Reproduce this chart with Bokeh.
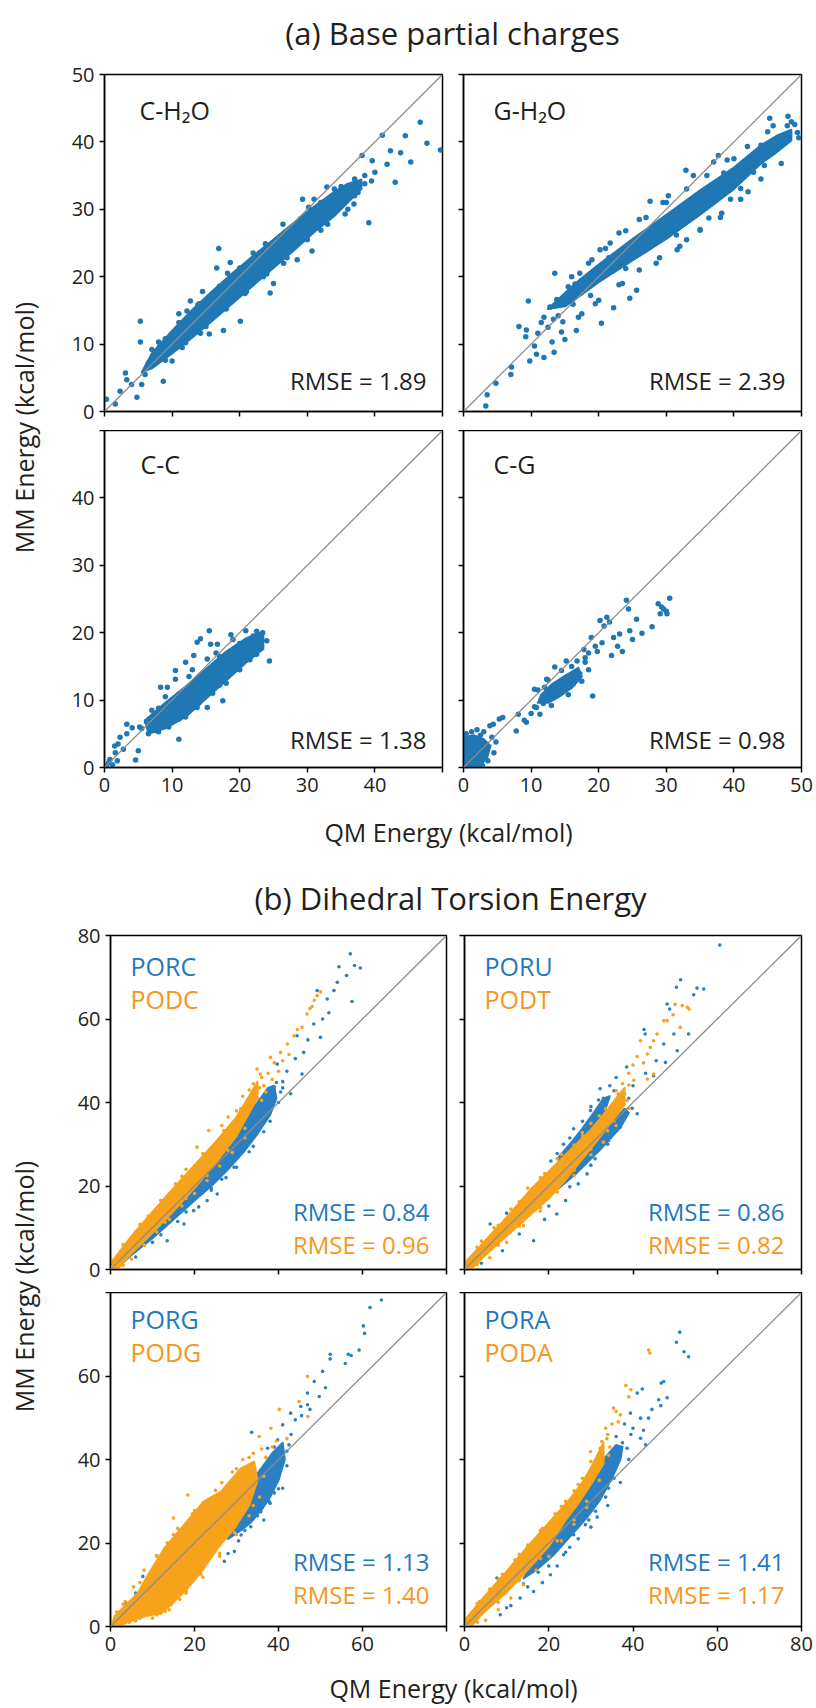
import math
from bokeh.plotting import figure
from bokeh.layouts import column, row
from bokeh.models import Range1d, FixedTicker, Label, Slope
from bokeh.embed import file_html
from bokeh.resources import INLINE

FONT = "Open Sans"
TXT = "#231f20"
BLUE_A = "#1f77b4"
BLUE_B = "#2b7fc3"
BLUE_T = "#1f78c0"
ORANGE = "#f7a21b"
ORANGE_T = "#f7961d"

# ---------------- data: (QM energy, MM energy) in kcal/mol ----------------
ticks_a = [0, 10, 20, 30, 40, 50]
ticks_b = [0, 20, 40, 60, 80]

# (a) C-H2O : outline of the densely packed region, then individual points
ch2o_dense = [(5.5, 5.8), (7, 8.6), (10, 12.0), (13, 15.1), (16, 17.9), (19, 20.6), (22, 23.1), (25, 25.5),
              (28, 28.0), (31, 30.4), (34, 32.6), (36, 33.8), (38, 34.4), (38, 33.0), (36, 31.0), (34, 29.0),
              (31, 26.6), (28, 23.9), (25, 21.3), (22, 18.7), (19, 16.1), (16, 13.5), (13, 11.0), (10, 8.6),
              (7, 6.4)]
ch2o_pts = [(0.3, 1.8), (1.6, 1.1), (2.3, 3.0), (3.1, 5.7), (3.3, 4.7), (4.0, 4.0), (4.8, 2.1), (5.3, 13.4),
            (5.3, 10.3), (5.5, 4.0), (6.5, 7.2), (7.0, 9.2), (7.8, 8.4), (8.7, 4.5), (8.2, 9.7), (9.5, 9.0),
            (12.7, 16.4), (16.6, 21.3), (16.9, 24.2), (18.6, 22.1), (20.1, 13.4), (17.6, 12.0), (24.5, 17.6),
            (26.4, 27.8), (29.3, 31.5), (30.7, 23.8), (32.9, 33.3), (35.6, 29.3), (36.9, 30.8), (38.1, 38.0),
            (39.1, 28.0), (39.6, 37.2), (41.1, 41.0), (41.8, 36.7), (42.3, 38.7), (43.0, 34.0), (43.8, 38.4),
            (44.5, 40.9), (45.3, 37.0), (46.7, 42.9), (47.7, 39.8), (49.7, 38.8), (11.0, 14.5), (14.5, 17.8),
            (15.5, 11.5), (22.0, 23.5), (27.5, 26.0), (31.0, 31.5), (34.0, 33.0), (10.0, 7.5), (19.5, 20.5),
            (25.0, 19.0), (28.5, 22.5), (37.0, 34.5), (40.0, 35.5), (6.0, 5.5), (9.0, 10.8), (11.5, 9.5),
            (13.8, 15.8), (21.0, 21.8), (23.5, 20.0), (33.5, 29.0), (35.0, 32.5), (38.5, 35.0),
            (8, 10.3), (11, 13.2), (14, 16.0), (17, 18.6), (20, 21.3), (23, 23.6), (26, 26.0), (29, 28.6),
            (32, 31.0), (35, 33.4), (9, 7.6), (12, 10.2), (15, 12.6), (18, 15.2), (21, 17.8), (24, 20.4),
            (27, 22.8), (30, 25.5), (33, 27.8), (36, 30.0), (37.5, 32.5), (38.5, 33.8), (39.5, 34.2),
            (12.2, 14.9), (18.2, 20.5), (23.8, 24.9), (30.2, 30.3), (34.8, 32.6), (14.2, 11.6), (20.8, 17.5),
            (26.5, 22.0), (32.0, 26.9), (37.0, 32.0)]

# (a) G-H2O
gh2o_dense = [(12.5, 15.2), (15, 17.6), (17, 19.4), (20, 21.8), (25, 25.6), (30, 29.2), (35, 32.8),
              (40, 36.2), (44, 39.5), (46.5, 41.0), (48.5, 41.8), (48.5, 40.2), (46, 38.2), (44, 36.8),
              (40, 33.0), (35, 29.2), (30, 25.6), (25, 22.4), (20, 19.2), (17, 17.0), (15, 15.6)]
gh2o_pts = [(3.3, 0.8), (3.5, 2.5), (4.8, 4.2), (7.0, 5.5), (7.1, 6.6), (9.8, 7.5), (10.5, 9.7), (10.8, 8.5),
            (11.9, 8.0), (11.0, 11.6), (9.6, 16.4), (8.2, 12.6), (9.3, 12.1), (9.2, 11.1), (11.9, 14.0),
            (13.1, 10.3), (13.3, 13.7), (13.5, 20.5), (13.4, 8.8), (15.0, 10.7), (14.7, 13.3), (14.0, 14.2),
            (16.2, 15.9), (16.7, 12.0), (17.5, 14.5), (18.0, 19.0), (17.2, 20.5), (20.2, 24.0), (21.7, 25.0),
            (20.4, 13.1), (22.2, 15.4), (24.6, 16.8), (25.6, 18.0), (27.6, 31.2), (30.3, 32.0), (32.9, 35.8),
            (34.0, 35.0), (37.0, 37.0), (37.7, 38.0), (45.3, 43.5), (45.8, 42.4), (47.9, 42.4), (49.4, 41.4),
            (42.1, 32.6), (42.9, 35.5), (31.6, 24.0), (35.0, 26.9), (36.3, 28.7), (38.2, 29.4), (41.0, 33.1),
            (12.5, 12.5), (15.5, 18.5), (19.0, 22.5), (23.0, 26.5), (26.0, 28.5), (28.5, 22.0), (33.0, 25.5),
            (39.5, 31.5), (44.0, 39.5), (46.5, 40.5), (48.5, 43.0), (44.5, 36.5), (40.0, 37.5), (23.5, 19.0),
            (19.5, 16.0), (29.5, 31.0), (16.0, 20.0), (18.5, 22.0), (21.0, 24.2), (24.0, 26.8), (27.0, 28.8),
            (30.0, 31.0), (33.0, 33.0), (36.0, 35.0), (39.0, 37.3), (42.0, 39.3), (45.0, 41.5), (48.0, 43.8),
            (17.0, 14.0), (20.0, 16.5), (23.0, 18.8), (26.0, 21.0), (29.0, 22.8), (32.0, 24.5), (35.0, 27.0),
            (38.0, 28.8), (41.0, 31.5), (44.0, 34.5), (47.0, 36.8), (15.0, 16.5), (12.8, 15.5), (14.5, 11.8),
            (22.0, 21.0), (27.0, 24.0), (31.0, 27.5), (34.0, 30.5), (37.5, 33.0), (41.5, 36.0), (46.5, 39.5),
            (11.5, 13.2), (13.8, 16.6), (16.5, 18.9), (18.8, 17.2), (21.5, 22.8), (24.0, 21.2), (28.0, 27.0),
            (31.5, 26.2), (36.5, 31.5), (38.5, 35.4), (43.0, 37.8), (49.0, 42.6), (49.6, 40.6)]

# (a) C-C
cc_dense = [(6, 7.0), (9, 9.6), (12, 12.0), (15, 14.6), (18, 17.2), (21, 19.2), (23.5, 20.2), (23.5, 17.6),
            (21, 15.6), (18, 12.9), (15, 10.2), (12, 7.5), (9, 5.8), (6.5, 5.0)]
cc_pts = [(0.6, 0.7), (0.8, 1.2), (1.6, 2.2), (2.3, 4.5), (3.3, 5.0), (4.1, 5.9), (3.3, 6.4), (4.6, 1.1),
          (5.0, 2.5), (2.8, 2.7), (11.0, 4.2), (6.5, 5.0), (15.2, 8.9), (13.7, 8.9), (17.5, 9.9), (24.4, 15.8),
          (10.5, 14.4), (10.5, 13.1), (12.0, 15.6), (13.2, 16.6), (13.7, 18.6), (14.2, 19.1), (15.5, 20.3),
          (15.7, 18.3), (16.7, 18.3), (18.7, 19.7), (20.9, 20.3), (23.4, 20.0), (8.3, 11.9), (9.3, 11.9),
          (15.2, 16.1), (1.2, 0.4), (0.3, 0.2), (1.9, 1.0), (2.0, 3.5), (1.5, 3.2), (5.5, 5.8), (6.2, 6.8),
          (7.0, 8.5), (9.0, 10.5), (12.5, 13.5), (17.0, 16.5), (19.5, 17.5), (22.0, 19.5), (23.0, 18.3),
          (21.5, 16.0), (18.0, 12.5), (16.0, 11.0), (12.0, 7.5), (9.5, 6.0), (7.5, 5.5), (8, 8.8), (11, 10.9),
          (14, 13.2), (17, 15.9), (20, 18.4), (22.5, 20.2), (8, 5.3), (11, 7.2), (14, 9.6), (17, 12.2),
          (20, 14.5), (22.5, 16.8), (13.0, 14.5), (16.5, 17.0), (19.0, 19.0), (24.0, 18.8), (5.2, 6.0)]

# (a) C-G : two dense clusters
cg_dense_low = [(0, 0), (0, 4.5), (1.5, 4.8), (3, 4.2), (4, 3.2), (3.5, 1.5), (2.5, 0.3), (1.5, 0)]
cg_dense_mid = [(11.5, 10.8), (13, 12.3), (15, 13.6), (17, 14.8), (17.5, 13.5), (16, 11.8), (14, 10.4),
                (12.5, 9.6), (11, 9.6)]
cg_pts = [(0.4, 5.0), (3.9, 6.2), (4.4, 6.4), (5.3, 7.2), (5.8, 7.4), (2.5, 4.8), (3.0, 5.3), (4.2, 4.5),
          (4.8, 3.8), (2.8, 0.3), (3.6, 1.0), (0.2, 0.2), (8.1, 7.9), (7.8, 5.4), (9.3, 6.7), (10.5, 11.6),
          (10.8, 8.9), (11.3, 7.9), (12.3, 13.1), (13.5, 14.9), (13.8, 10.9), (14.2, 11.9), (15.2, 15.8),
          (16.2, 12.4), (17.2, 13.9), (18.0, 16.3), (19.1, 10.6), (18.9, 19.3), (20.2, 21.8), (21.2, 22.3),
          (22.2, 19.3), (21.9, 16.6), (23.1, 19.8), (24.1, 24.8), (24.4, 23.5), (25.6, 22.0), (26.4, 19.9),
          (27.9, 20.9), (24.6, 20.3), (28.8, 24.3), (29.1, 22.8), (30.1, 22.8), (30.5, 25.1), (29.6, 23.5),
          (20.8, 21.0), (21.6, 21.6), (19.5, 18.0), (18.5, 17.0), (17.8, 17.5), (16.8, 15.8), (19.8, 17.2),
          (20.5, 18.5), (22.8, 18.0), (23.5, 17.2), (25.0, 19.0), (29.3, 23.8), (30.0, 23.2), (9.0, 7.0),
          (10.0, 8.0), (11.8, 9.5), (11, 11.5), (12.5, 13.0), (16, 15.0), (18, 15.6), (17.5, 12.8),
          (15.5, 10.8), (13, 9.2), (10.5, 9.0), (4.5, 2.2), (1.2, 5.3), (2.0, 5.6), (0.5, 0.5), (14.5, 14.4),
          (12.0, 11.9), (18.5, 14.5), (16.8, 13.2)]

# (b) PORC (blue) / PODC (orange)
porc_dense = [[(2, 2), (10, 10.5), (20, 21), (28, 31), (32, 36), (35, 40), (37.5, 43.5), (39, 44), (39.5, 41),
               (38, 37), (35, 32.5), (32, 28.5), (28, 24), (24, 20), (20, 16.5), (15, 12), (10, 7.5), (5, 3.5),
               (2, 0.8)]]
porc_pts = [(57.1, 75.6), (54.4, 72.5), (58.1, 72.8), (59.5, 72.2), (56.2, 70.4), (57.5, 64.2), (54.0, 68.8),
            (53.2, 66.8), (51.6, 64.8), (49.2, 66.8), (50.0, 55.6), (48.4, 58.8), (44.4, 56.0), (45.6, 46.8),
            (42.9, 42.1), (39.7, 49.2), (38.9, 43.7), (35.7, 35.7), (32.5, 31.7), (29.4, 24.5), (25.4, 18.1),
            (23.0, 16.5), (19.8, 14.1), (17.5, 10.9), (13.5, 6.9), (52.0, 61.5), (50.5, 60.0), (47.0, 55.0),
            (46.0, 52.0), (44.0, 50.5), (42.0, 47.5), (41.0, 45.0), (40.5, 42.5), (38.0, 41.0), (37.0, 39.0),
            (36.5, 36.5), (34.0, 32.0), (31.0, 28.8), (27.5, 22.0), (24.0, 19.5), (21.0, 15.0), (16.0, 11.5),
            (10.0, 6.5), (5.0, 4.2), (2.0, 2.5), (13.0, 14.5), (22.0, 25.0), (29.0, 33.0), (34.0, 40.0),
            (6, 3.0), (12, 8.3), (18, 13.8), (24, 19.0), (30, 24.5), (34, 29.5), (38, 35.5), (40, 40.0),
            (41.0, 43.5), (39.5, 44.8), (36.5, 33.0), (33.0, 28.2), (26.5, 21.6)]
podc_dense = [(0, 1.5), (5, 8.0), (10, 13.8), (15, 19.5), (20, 25.0), (25, 30.5), (30, 36.5), (33, 41.5),
              (35, 45), (35, 41), (33, 37.5), (30, 32.0), (25, 25.5), (20, 19.5), (15, 14.0), (10, 8.8),
              (5, 3.8), (1.5, 0)]
podc_pts = [(35.7, 46.8), (34.9, 48.0), (38.1, 50.8), (42.1, 54.0), (43.7, 56.0), (45.6, 58.0), (46.8, 61.2),
            (49.2, 65.6), (36.5, 44.0), (37.5, 47.0), (39.0, 49.5), (40.5, 52.0), (41.0, 50.0), (44.5, 57.5),
            (48.0, 63.0), (50.0, 66.5), (20.6, 29.3), (23.4, 33.3), (26.5, 34.5), (28.0, 36.5), (30.0, 38.0),
            (31.5, 41.5), (33.0, 43.0), (34.0, 44.5), (37.0, 42.5), (33.5, 39.0), (35.0, 41.0), (36.0, 40.5),
            (32.0, 37.0), (30.5, 35.5), (27.0, 32.0), (24.0, 28.5), (18.0, 24.0), (15.5, 20.5), (12.0, 16.5),
            (9.0, 12.8), (6.0, 9.0), (3.5, 5.5), (2.0, 0.0), (5.0, 2.5), (8.0, 5.8), (11.0, 9.0), (14.0, 12.0),
            (17.0, 15.2), (20.0, 18.2), (23.0, 21.3), (26.0, 24.8), (29.0, 28.0), (32.0, 31.5), (38.5, 45.5),
            (40.0, 47.5), (42.5, 51.5), (47.5, 62.5), (48.5, 64.5), (3, 6.0), (7, 10.8), (12, 16.5), (17, 22.3),
            (22, 27.8), (27, 33.3), (31, 38.5), (3, 1.0), (8, 5.8), (13, 11.3), (18, 17.0), (23, 22.5),
            (28, 28.5), (32, 33.8), (36.0, 46.0), (35.5, 43.5)]

# (b) PORU (blue) / PODT (orange)
poru_dense = [[(22, 26.5), (25, 30.0), (28, 33.8), (31, 38.0), (33, 41.0), (34.5, 41.5), (33.5, 38.5),
               (30.5, 34.0), (27, 29.5), (23.5, 25.5)],
              [(20, 17.5), (26, 22.5), (32, 28.5), (37, 34), (39, 37.5), (38, 38.5), (34, 34), (28, 27.5),
               (22, 20.5)]]
poru_pts = [(60.6, 77.7), (51.3, 69.4), (50.3, 67.6), (55.2, 67.4), (56.8, 67.2), (54.4, 65.8), (48.1, 63.6),
            (48.7, 62.4), (42.6, 57.5), (42.9, 56.4), (47.3, 54.0), (49.7, 56.4), (53.2, 56.4), (50.5, 52.4),
            (47.7, 49.6), (44.9, 46.4), (41.0, 37.3), (37.0, 34.1), (34.2, 30.9), (29.1, 22.9), (21.9, 13.3),
            (16.4, 6.9), (6.1, 10.9), (32.2, 43.3), (29.9, 38.1), (25.9, 33.7), (33.0, 41.0), (34.5, 44.0),
            (36.0, 46.0), (38.5, 48.5), (40.0, 44.0), (43.0, 47.0), (39.0, 41.0), (31.0, 26.5), (27.0, 20.5),
            (24.0, 16.5), (19.0, 12.0), (13.0, 8.5), (9.0, 4.5), (4.0, 1.5), (10.0, 13.5), (23.5, 30.0),
            (20.5, 26.0), (45.5, 50.0), (22, 27.8), (25, 31.5), (28, 35.5), (30, 39.0), (20, 15.2), (25, 19.8),
            (30, 25.0), (34, 30.0), (37, 35.0), (35.5, 42.8), (31.8, 40.6), (39.8, 38.6)]
podt_dense = [(0, 1.5), (5, 7.0), (10, 12.5), (16, 19.5), (20, 23.5), (25, 28.5), (30, 33.5), (33, 37),
              (36, 41), (38, 43.5), (38, 39.5), (35, 35.5), (32, 31.5), (28, 26.5), (24, 21.5), (20, 17.0),
              (15, 12.5), (10, 8.0), (5, 3.5), (1.5, 0)]
podt_pts = [(36.2, 38.9), (38.6, 40.5), (40.2, 45.3), (44.1, 53.2), (48.1, 59.6), (52.9, 62.8), (53.3, 62.4),
            (51.7, 63.2), (51.2, 58.0), (47.3, 59.6), (45.7, 56.4), (44.9, 54.8), (41.8, 54.8), (43.4, 51.6),
            (44.9, 46.8), (43.4, 45.6), (34.0, 37.0), (35.0, 39.5), (36.5, 42.0), (37.5, 44.5), (39.0, 47.0),
            (40.0, 49.0), (41.0, 51.0), (42.5, 49.5), (38.0, 42.0), (35.5, 35.5), (33.5, 38.5), (30.0, 35.0),
            (28.0, 32.0), (26.0, 29.8), (22.0, 26.5), (19.0, 23.0), (15.0, 19.5), (11.0, 14.5), (7.0, 10.0),
            (4.0, 6.8), (3.0, 0.0), (6.0, 2.8), (10.0, 6.5), (14.0, 10.5), (18.0, 14.0), (22.0, 18.5),
            (26.0, 22.5), (30.0, 27.5), (33.0, 30.5), (36.0, 34.5), (39.0, 38.5), (50.0, 63.5), (49.5, 61.0),
            (3, 5.3), (8, 10.6), (13, 16.2), (18, 22.0), (23, 27.6), (28, 32.8), (32, 36.8), (36, 42.8),
            (3, 1.2), (8, 5.8), (13, 10.4), (18, 14.8), (22, 19.2), (26, 23.8), (30, 28.8), (34, 33.2),
            (39.0, 44.2), (37.0, 40.4)]

# (b) PORG (blue) / PODG (orange)
porg_dense = [[(28, 21), (30, 30), (33, 34), (36, 38), (38.5, 41.5), (41, 44), (41.5, 40), (40, 35), (38, 31),
               (36, 28), (33.5, 25), (31, 23)]]
porg_pts = [(64.5, 78.2), (61.8, 76.4), (60.2, 72.0), (60.5, 70.2), (56.6, 65.2), (55.9, 63.0), (57.3, 64.9),
            (59.2, 66.2), (52.3, 64.1), (52.3, 65.2), (50.5, 61.1), (51.2, 57.2), (49.7, 55.1), (48.5, 58.7),
            (46.9, 55.9), (46.9, 53.1), (45.3, 52.7), (42.9, 51.1), (41.0, 48.3), (39.8, 44.7), (37.4, 42.7),
            (41.0, 33.1), (37.8, 29.9), (35.8, 27.5), (33.4, 23.9), (31.1, 21.9), (27.1, 15.6), (29.5, 18.0),
            (33.6, 46.5), (24.7, 23.9), (11.3, 15.2), (7.7, 12.0), (3.7, 5.6), (8.9, 9.2), (44.0, 49.5),
            (43.0, 46.0), (45.5, 50.5), (47.5, 52.0), (42.0, 42.0), (40.5, 38.0), (39.0, 32.0), (36.5, 25.5),
            (34.0, 26.0), (30.5, 20.5), (28.0, 17.5), (26.0, 20.5), (22.0, 16.0), (20.0, 22.0), (6.0, 8.0),
            (2.0, 2.5), (1.0, 0.8), (5.0, 4.0), (14.0, 18.5), (10.0, 11.0), (32, 23.0), (35, 26.5), (38, 29.5),
            (40, 33.0), (42, 38.5), (42.5, 43.5), (39, 43.0)]
podg_dense = [(0.2, 0), (1, 2.5), (4, 5.5), (6.5, 8), (9, 12.5), (12.8, 18.7), (16.8, 23.5), (22.3, 30),
              (26.3, 32.3), (31.1, 37.9), (34.2, 39.5), (35, 35), (33, 29), (29.5, 23.5), (25.5, 18.7),
              (21.6, 13.1), (18.4, 9.2), (14.4, 5.2), (12, 3.2), (8, 2.4), (4, 1.0), (2, 0)]
podg_pts = [(46.9, 59.9), (44.9, 53.9), (40.2, 52.0), (38.2, 47.5), (47.0, 50.3), (35.4, 45.5), (27.5, 28.7),
            (25.5, 31.5), (18.4, 31.5), (23.1, 30.3), (12.0, 3.2), (13.0, 3.6), (14.4, 5.2), (11.0, 2.8),
            (16.5, 6.5), (18.0, 8.5), (21.5, 12.5), (26.0, 17.5), (29.5, 22.5), (33.0, 26.5), (35.5, 31.0),
            (36.5, 36.0), (37.0, 40.5), (38.5, 43.0), (36.0, 42.5), (34.0, 41.5), (31.5, 40.0), (29.0, 37.0),
            (26.5, 34.5), (22.0, 29.5), (19.5, 27.0), (16.0, 23.5), (13.5, 20.0), (11.0, 17.0), (8.0, 13.5),
            (5.5, 9.5), (3.5, 6.0), (1.5, 3.5), (4.5, 1.0), (7.0, 2.0), (9.0, 4.5), (2.5, 0.5), (42.0, 45.0),
            (39.5, 44.5), (15.0, 26.0), (10.0, 10.5), (6.0, 7.5), (3, 5.3), (7, 10.5), (11, 16.8), (15, 22.0),
            (20, 27.8), (25, 32.6), (30, 37.8), (33, 40.5), (6, 1.3), (10, 2.0), (14, 4.0), (18, 8.0),
            (22, 11.8), (26, 16.8), (30, 22.0), (34, 29.0)]

# (b) PORA (blue) / PODA (orange)
pora_dense = [[(16, 15), (20, 20), (24, 26), (27, 30.5), (30, 35), (33, 40), (36, 43.5), (37.5, 43),
               (37, 40), (35, 35.5), (32, 30), (29, 26), (25, 21.5), (21, 17), (17, 13.5), (14, 11.5)]]
pora_pts = [(51.1, 70.5), (50.3, 68.1), (52.1, 65.8), (53.2, 64.6), (47.3, 58.7), (46.7, 58.3), (48.1, 54.8),
            (46.1, 54.3), (46.6, 52.9), (42.2, 56.9), (41.0, 55.9), (43.7, 49.9), (41.8, 49.9), (43.0, 43.5),
            (41.8, 45.1), (39.4, 51.1), (38.6, 42.7), (37.0, 41.1), (35.4, 38.3), (34.2, 33.1), (32.2, 34.8),
            (31.1, 27.6), (28.7, 24.4), (25.9, 22.0), (23.5, 17.2), (20.4, 12.4), (16.4, 8.4), (13.2, 6.8),
            (8.5, 2.8), (3.7, 6.0), (7.7, 11.6), (40.0, 47.5), (42.5, 47.0), (44.5, 52.0), (39.5, 46.0),
            (37.5, 44.0), (36.0, 45.5), (38.0, 48.5), (27.0, 21.0), (22.0, 14.5), (18.5, 10.5), (11.0, 5.0),
            (29.5, 25.5), (33.5, 31.0), (35.5, 35.5), (10, 4.5), (15, 9.5), (20, 14.5), (25, 19.0), (30, 23.8),
            (34, 29.0), (37, 34.5), (39, 40.0), (14.0, 10.2), (17.5, 13.0), (24.0, 17.8), (31.5, 26.2)]
poda_dense = [(0, 1.5), (5, 7.5), (10, 13.2), (15, 19.2), (20, 24.8), (25, 30.5), (28, 34.5), (30, 38),
              (32, 42), (33, 44), (33, 39), (30, 34), (27, 29.5), (24, 25.5), (20, 19.2), (15, 13.6), (10, 8.2),
              (5, 3.8), (1.5, 0)]
poda_pts = [(43.7, 66.2), (44.0, 65.5), (38.3, 57.7), (39.5, 56.7), (35.4, 52.3), (37.0, 50.7), (32.6, 44.3),
            (29.9, 41.9), (32.2, 42.7), (31.5, 40.0), (33.0, 40.5), (34.0, 46.0), (35.0, 48.5), (36.5, 49.0),
            (33.5, 47.5), (34.5, 43.0), (30.5, 38.5), (32.0, 38.0), (28.0, 35.5), (26.0, 32.5), (24.0, 30.0),
            (21.5, 27.0), (18.5, 23.5), (15.0, 19.5), (12.0, 16.0), (9.0, 12.5), (6.0, 9.0), (3.5, 5.8),
            (2.0, 0.0), (5.0, 1.5), (8.0, 4.0), (11.0, 6.8), (14.0, 10.0), (17.0, 13.5), (20.0, 16.8),
            (23.0, 20.5), (26.0, 24.5), (29.0, 28.5), (39.0, 55.0), (36.0, 51.5), (3, 5.5), (8, 11.3),
            (13, 17.3), (18, 23.0), (23, 28.8), (27, 34.0), (30, 39.5), (3, 1.0), (8, 5.8), (13, 11.0),
            (18, 16.3), (22, 20.5), (26, 25.5), (29, 30.0), (32, 35.0), (33.8, 45.0), (34.2, 41.0)]

labels_a = ["C-H\u2082O", "G-H\u2082O", "C-C", "C-G"]
rmse_a = ["1.89", "2.39", "1.38", "0.98"]
labels_b = [("PORC", "PODC"), ("PORU", "PODT"), ("PORG", "PODG"), ("PORA", "PODA")]
rmse_b = [("0.84", "0.96"), ("0.86", "0.82"), ("1.13", "1.40"), ("1.41", "1.17")]


def xy(pairs):
    return [p[0] for p in pairs], [p[1] for p in pairs]


def make_panel(lim, ticks, fw, fh, mb, show_x, show_y, hide_x_last, hide_y_last):
    p = figure(frame_width=fw, frame_height=fh, x_range=Range1d(0, lim), y_range=Range1d(0, lim),
               output_backend="svg", toolbar_location=None,
               min_border_left=mb[0], min_border_right=mb[1], min_border_top=mb[2], min_border_bottom=mb[3])
    p.grid.visible = False
    p.outline_line_color = "black"
    p.outline_line_width = 1.5
    p.outline_line_alpha = 1.0
    for ax, show, hide_last in ((p.xaxis[0], show_x, hide_x_last), (p.yaxis[0], show_y, hide_y_last)):
        ax.ticker = FixedTicker(ticks=ticks, minor_ticks=[])
        ax.axis_line_width = 1.5
        ax.axis_line_color = "black"
        ax.major_tick_line_width = 1.5
        ax.major_tick_line_color = "black"
        ax.major_tick_out = 5
        ax.major_tick_in = 0
        ax.minor_tick_out = 0
        ax.minor_tick_in = 0
        ax.major_label_text_font = FONT
        ax.major_label_text_color = TXT
        if show:
            ax.major_label_text_font_size = "20px"
            ax.major_label_standoff = 5
            if hide_last:
                ax.major_label_overrides = {ticks[-1]: ""}
        else:
            ax.major_label_text_font_size = "0px"
            ax.major_label_standoff = 0
            ax.major_label_overrides = {t: "" for t in ticks}
    p.add_layout(Slope(gradient=1, y_intercept=0, line_color="#8c8c8c", line_width=1.3))
    return p


def add_dense(p, outline, color):
    x, y = xy(outline)
    p.patch(x, y, fill_color=color, line_color=color, line_width=2, line_join="round")


def add_points(p, pairs, color, size):
    x, y = xy(pairs)
    p.scatter(x, y, size=size, fill_color=color, line_color=None, marker="circle")


def add_text(p, x, y, xo, yo, text, color, align, size="25px"):
    p.add_layout(Label(x=x, y=y, x_offset=xo, y_offset=yo, text=text, text_color=color,
                       text_font=FONT, text_font_size=size, text_align=align,
                       text_baseline="middle"))


def text_fig(w, h, text, x, y, size, angle=0.0):
    p = figure(frame_width=w, frame_height=h, x_range=Range1d(0, w), y_range=Range1d(0, h),
               x_axis_type=None, y_axis_type=None, output_backend="svg", toolbar_location=None,
               min_border_left=0, min_border_right=0, min_border_top=0, min_border_bottom=0)
    p.outline_line_color = None
    p.grid.visible = False
    p.add_layout(Label(x=x, y=y, text=text, angle=angle, text_align="center", text_baseline="middle",
                       text_font=FONT, text_font_size=size, text_color=TXT))
    return p


# ---------------- section (a) ----------------
A_LIM = 50
a1 = make_panel(A_LIM, ticks_a, 338, 337, (48, 2, 16, 19), False, True, False, False)
a2 = make_panel(A_LIM, ticks_a, 338, 337, (19, 12, 16, 19), False, False, False, False)
a3 = make_panel(A_LIM, ticks_a, 338, 337, (48, 2, 0, 38), True, True, True, True)
a4 = make_panel(A_LIM, ticks_a, 338, 337, (19, 12, 0, 38), True, False, False, False)

a_panels = [a1, a2, a3, a4]
a_dense = [[ch2o_dense], [gh2o_dense], [cc_dense], [cg_dense_low, cg_dense_mid]]
a_pts = [ch2o_pts, gh2o_pts, cc_pts, cg_pts]
a_name_x = [35, 30, 36, 30]
a_name_y = [-35, -35, -33, -33]
a_rmse_y = [31, 31, 28, 28]
for i, p in enumerate(a_panels):
    for outline in a_dense[i]:
        add_dense(p, outline, BLUE_A)
    add_points(p, a_pts[i], BLUE_A, 5.5)
    add_text(p, 0, A_LIM, a_name_x[i], a_name_y[i], labels_a[i], TXT, "left")
    add_text(p, A_LIM, 0, -16, a_rmse_y[i], "RMSE = " + rmse_a[i], TXT, "right", "24px")

title_a = text_fig(813, 58, "(a) Base partial charges", 452, 26, "31px")
ylab_a = text_fig(56, 747, "MM Energy (kcal/mol)", 23, 378, "25px", math.pi / 2)
xlab_a = text_fig(813, 45, "QM Energy (kcal/mol)", 448, 19, "25px")

sec_a = column(title_a,
               row(ylab_a, column(row(a1, a2), row(a3, a4))),
               xlab_a)

# ---------------- section (b) ----------------
B_LIM = 80
b1 = make_panel(B_LIM, ticks_b, 336, 334, (54, 2, 18, 23), False, True, False, False)
b2 = make_panel(B_LIM, ticks_b, 337, 334, (16, 12, 18, 23), False, False, False, False)
b3 = make_panel(B_LIM, ticks_b, 336, 334, (54, 2, 0, 38), True, True, True, True)
b4 = make_panel(B_LIM, ticks_b, 337, 334, (16, 12, 0, 38), True, False, False, False)

b_panels = [b1, b2, b3, b4]
b_data = [(porc_dense, porc_pts, podc_dense, podc_pts),
          (poru_dense, poru_pts, podt_dense, podt_pts),
          (porg_dense, porg_pts, podg_dense, podg_pts),
          (pora_dense, pora_pts, poda_dense, poda_pts)]
b_name_y = [(-30, -63), (-30, -63), (-26, -59), (-26, -59)]
b_rmse_y = [(58, 25), (58, 25), (65, 32), (65, 32)]
for i, p in enumerate(b_panels):
    bd, bp, od, op = b_data[i]
    for outline in bd:
        add_dense(p, outline, BLUE_B)
    add_points(p, bp, BLUE_B, 3.6)
    add_dense(p, od, ORANGE)
    add_points(p, op, ORANGE, 3.6)
    add_text(p, 0, B_LIM, 20, b_name_y[i][0], labels_b[i][0], BLUE_T, "left")
    add_text(p, 0, B_LIM, 20, b_name_y[i][1], labels_b[i][1], ORANGE_T, "left")
    add_text(p, B_LIM, 0, -17, b_rmse_y[i][0], "RMSE = " + rmse_b[i][0], BLUE_T, "right", "24px")
    add_text(p, B_LIM, 0, -17, b_rmse_y[i][1], "RMSE = " + rmse_b[i][1], ORANGE_T, "right", "24px")

title_b = text_fig(813, 67, "(b) Dihedral Torsion Energy", 450, 20, "31px")
ylab_b = text_fig(56, 747, "MM Energy (kcal/mol)", 23, 378, "25px", math.pi / 2)
xlab_b = text_fig(813, 44, "QM Energy (kcal/mol)", 453, 21, "25px")

sec_b = column(title_b,
               row(ylab_b, column(row(b1, b2), row(b3, b4))),
               xlab_b)

page = column(sec_a, sec_b)

open("out.html", "w").write(file_html(page, INLINE))
